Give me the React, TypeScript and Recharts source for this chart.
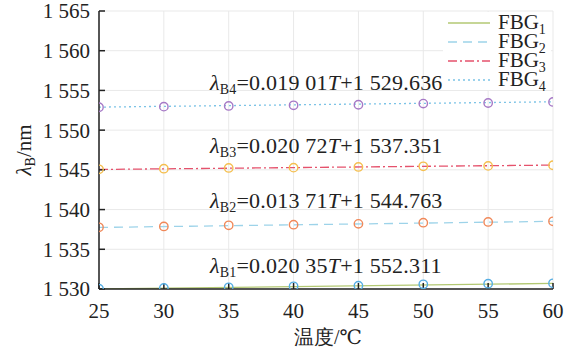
import React from "react";
import {
  CartesianGrid,
  ComposedChart,
  Line,
  Scatter,
  XAxis,
  YAxis,
} from "recharts";

const temps = [25, 30, 35, 40, 45, 50, 55, 60];
const fitT = [25, 60];
const xTicks = [25, 30, 35, 40, 45, 50, 55, 60];
const yTicks = [1530, 1535, 1540, 1545, 1550, 1555, 1560, 1565];

// measured points (circles)
const fbg1 = [1530.04, 1530.13, 1530.21, 1530.34, 1530.42, 1530.59, 1530.67, 1530.72];
const fbg2 = [1537.77, 1537.88, 1538.02, 1538.1, 1538.2, 1538.35, 1538.44, 1538.52];
const fbg3 = [1545.07, 1545.15, 1545.24, 1545.28, 1545.37, 1545.45, 1545.5, 1545.58];
const fbg4 = [1552.88, 1552.96, 1553.05, 1553.13, 1553.2, 1553.34, 1553.42, 1553.55];

// fitted lines, read at the ends
const fit1 = [1530.0, 1530.7];
const fit2 = [1537.75, 1538.52];
const fit3 = [1545.05, 1545.6];
const fit4 = [1552.9, 1553.57];

const equations = [
  { id: "B4", k: "0.019 01", b: "1 529.636" },
  { id: "B3", k: "0.020 72", b: "1 537.351" },
  { id: "B2", k: "0.013 71", b: "1 544.763" },
  { id: "B1", k: "0.020 35", b: "1 552.311" },
];

const FONT = '"Liberation Serif", "DejaVu Serif", serif';

const series = [
  { name: "1", pts: fbg1, fit: fit1, line: "#b3c873", dash: undefined, mark: "#56aee3" },
  { name: "2", pts: fbg2, fit: fit2, line: "#9dd3e9", dash: "9 6", mark: "#f08859" },
  { name: "3", pts: fbg3, fit: fit3, line: "#e5526c", dash: "9 3 2 3", mark: "#f5bf4f" },
  { name: "4", pts: fbg4, fit: fit4, line: "#7cc3e6", dash: "2 3", mark: "#a679c6" },
];

const toPts = (ys: number[], xs: number[]) => xs.map((t, i) => ({ t, v: ys[i] }));
const fmt = (v: number) => String(v).replace(/^(\d)(\d{3})$/, "$1 $2");

const Ring = (color: string) => (p: any) => (
  <circle cx={p.cx} cy={p.cy} r={4.2} fill="none" stroke={color} strokeWidth={1.4} />
);

function LegendBox() {
  return (
    <div
      style={{
        position: "absolute",
        top: 12,
        left: 443,
        background: "#fff",
        width: 108,
        padding: "1px 0",
        fontFamily: FONT,
        fontSize: 21,
        color: "#222",
      }}
    >
      {series.map((s) => (
        <div key={s.name} style={{ display: "flex", alignItems: "center", height: 19 }}>
          <svg width={48} height={10} style={{ marginLeft: 3 }}>
            <line x1={2} y1={5} x2={44} y2={5} stroke={s.line} strokeWidth={1.3} strokeDasharray={s.dash} />
          </svg>
          <span style={{ marginLeft: 4, lineHeight: "19px" }}>
            FBG<sub style={{ fontSize: 14, verticalAlign: "-5px", lineHeight: 0 }}>{s.name}</sub>
          </span>
        </div>
      ))}
    </div>
  );
}

export default function App() {
  const eqTops = [71, 134, 189, 254];
  return (
    <div style={{ position: "absolute", left: 0, top: 0, width: 574, height: 350, background: "#fff" }}>
      <ComposedChart
        width={574}
        height={350}
        margin={{ top: 11, right: 21, bottom: 0, left: 0 }}
        style={{ fontFamily: FONT }}
      >
        <CartesianGrid xAxisId="b" yAxisId="l" stroke="#e9e9e9" strokeWidth={1} />
        <XAxis
          xAxisId="b"
          dataKey="t"
          type="number"
          domain={[25, 60]}
          ticks={xTicks}
          interval={0}
          height={61}
          stroke="#222"
          strokeWidth={1.5}
          tickSize={-6}
          tickMargin={20}
          tick={{ fill: "#222", fontSize: 21, fontFamily: FONT }}
          allowDataOverflow
        />
        <XAxis
          xAxisId="t"
          orientation="top"
          type="number"
          domain={[25, 60]}
          ticks={xTicks}
          interval={0}
          height={0}
          stroke="#222"
          strokeWidth={1.5}
          tickSize={-6}
          tick={false}
        />
        <YAxis
          yAxisId="l"
          type="number"
          domain={[1530, 1565]}
          ticks={yTicks}
          interval={0}
          width={99}
          stroke="#222"
          strokeWidth={1.5}
          tickSize={-6}
          tickMargin={15}
          tickFormatter={fmt}
          tick={{ fill: "#222", fontSize: 21, fontFamily: FONT }}
          allowDataOverflow
        />
        <YAxis
          yAxisId="r"
          orientation="right"
          type="number"
          domain={[1530, 1565]}
          ticks={yTicks}
          interval={0}
          width={0}
          stroke="#222"
          strokeWidth={1.5}
          tickSize={-6}
          tick={false}
        />
        {series.map((s) => (
          <Line
            key={"l" + s.name}
            xAxisId="b"
            yAxisId="l"
            data={toPts(s.fit, fitT)}
            dataKey="v"
            type="linear"
            stroke={s.line}
            strokeWidth={1.3}
            strokeDasharray={s.dash}
            dot={false}
            activeDot={false}
            isAnimationActive={false}
          />
        ))}
        {series.map((s) => (
          <Scatter
            key={"s" + s.name}
            xAxisId="b"
            yAxisId="l"
            data={toPts(s.pts, temps)}
            dataKey="v"
            shape={Ring(s.mark)}
            isAnimationActive={false}
          />
        ))}
      </ComposedChart>

      <LegendBox />

      {equations.map((e, i) => (
        <div
          key={e.id}
          style={{
            position: "absolute",
            left: 210,
            top: eqTops[i],
            fontFamily: FONT,
            fontSize: 22,
            letterSpacing: 0.2,
            color: "#222",
            whiteSpace: "nowrap",
            lineHeight: "24px",
          }}
        >
          <i>λ</i>
          <sub style={{ fontSize: 14, verticalAlign: "-4px", lineHeight: 0 }}>{e.id}</sub>={e.k}
          <i>T</i>+{e.b}
        </div>
      ))}

      <div
        style={{
          position: "absolute",
          left: 24,
          top: 150,
          transform: "translate(-50%, -50%) rotate(-90deg)",
          fontFamily: FONT,
          fontSize: 21,
          color: "#222",
          whiteSpace: "nowrap",
          lineHeight: "24px",
        }}
      >
        <i>λ</i>
        <sub style={{ fontSize: 14, verticalAlign: "-4px", lineHeight: 0 }}>B</sub>/nm
      </div>
      <div
        style={{
          position: "absolute",
          left: 328,
          top: 337,
          transform: "translate(-50%, -50%)",
          fontFamily: FONT,
          fontSize: 20,
          color: "#222",
          whiteSpace: "nowrap",
          lineHeight: "24px",
        }}
      >
        温度/℃
      </div>
    </div>
  );
}
